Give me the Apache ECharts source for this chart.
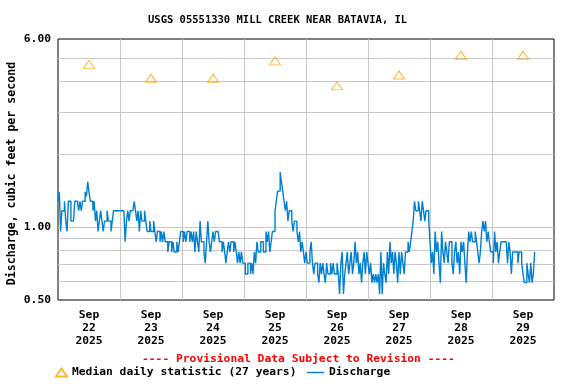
<!DOCTYPE html>
<html><head><meta charset="utf-8">
<script src="https://cdn.jsdelivr.net/npm/echarts@6/dist/echarts.min.js"></script>
<style>html,body{margin:0;padding:0;background:#fff}#c{width:576px;height:384px}</style>
</head><body><div id="c"></div>
<script>
// ---- data ----
const monthLabel = 'Sep';
const yearLabel = '2025';
const dayLabels = ['22','23','24','25','26','27','28','29'];
// median daily statistic (27 years), one per day, plotted at noon
const medianValues = [4.71, 4.13, 4.13, 4.87, 3.84, 4.26, 5.14, 5.14];
// discharge (cfs), half-hourly readings starting Sep 22 00:00
const dischargeDay22 = [1.28,1.40,0.96,1.17,1.17,1.28,1.06,0.96,1.28,1.28,1.06,1.06,1.06,1.28,1.28,1.28,1.17,1.28,1.17,1.28,1.28,1.40,1.34,1.54,
                        1.40,1.28,1.28,1.17,1.28,1.06,1.17,0.96,1.06,1.17,1.06,0.96,1.06,1.06,1.17,1.06,1.06,0.96,1.06,1.17,1.17,1.17,1.17,1.17];
const dischargeDay23 = [1.17,1.17,1.17,1.17,0.87,1.06,1.17,1.06,1.17,1.17,1.17,1.28,1.17,1.06,1.17,0.96,1.17,1.06,1.06,1.17,1.06,0.96,0.96,1.06,
                        0.96,0.96,1.06,0.96,0.87,0.96,0.96,0.87,0.96,0.87,0.96,0.87,0.87,0.79,0.87,0.87,0.79,0.87,0.79,0.79,0.87,0.79,0.87,0.96];
const dischargeDay24 = [0.96,0.87,0.96,0.87,0.96,0.96,0.87,0.96,0.87,0.96,0.79,0.96,0.87,0.79,1.06,0.87,0.87,0.79,0.71,0.87,1.06,0.87,0.79,0.87,
                        0.96,0.87,0.96,0.96,0.96,0.87,0.87,0.79,0.87,0.79,0.71,0.79,0.87,0.79,0.87,0.87,0.79,0.87,0.79,0.71,0.79,0.71,0.79,0.71];
const dischargeDay25 = [0.71,0.64,0.64,0.71,0.71,0.64,0.71,0.64,0.79,0.71,0.87,0.79,0.79,0.87,0.87,0.79,0.79,0.96,0.87,0.96,0.79,0.87,0.96,0.96,
                        1.17,1.28,1.41,1.41,1.69,1.54,1.41,1.28,1.17,1.28,1.06,1.17,1.17,1.06,0.96,1.06,1.06,0.96,0.87,0.96,0.79,0.87,0.79,0.71];
const dischargeDay26 = [0.79,0.71,0.71,0.79,0.87,0.71,0.64,0.71,0.71,0.64,0.59,0.71,0.64,0.71,0.64,0.59,0.71,0.64,0.64,0.71,0.64,0.71,0.64,0.64,
                        0.71,0.64,0.53,0.71,0.79,0.53,0.64,0.71,0.79,0.64,0.71,0.79,0.64,0.71,0.87,0.71,0.79,0.64,0.71,0.59,0.71,0.79,0.64,0.79];
const dischargeDay27 = [0.71,0.64,0.71,0.59,0.64,0.59,0.64,0.59,0.64,0.53,0.79,0.53,0.71,0.64,0.59,0.79,0.64,0.87,0.71,0.79,0.64,0.79,0.71,0.59,
                        0.79,0.64,0.79,0.71,0.64,0.79,0.79,0.87,0.79,0.87,0.96,1.06,1.28,1.17,1.17,1.28,1.17,1.06,1.28,1.17,1.06,1.17,1.17,1.06];
const dischargeDay28 = [0.87,0.71,0.79,0.64,0.96,0.79,0.87,0.71,0.59,0.96,0.79,0.71,0.87,0.79,0.71,0.87,0.87,0.71,0.64,0.79,0.87,0.71,0.79,0.64,
                        0.87,0.79,0.87,0.71,0.59,0.79,0.96,0.87,0.96,0.87,0.87,0.96,0.87,0.79,0.71,0.79,0.96,1.06,0.96,1.06,0.87,0.96,0.87,0.79];
const dischargeDay29 = [0.79,0.71,0.96,0.79,0.87,0.71,0.79,0.87,0.87,0.87,0.87,0.87,0.71,0.87,0.79,0.64,0.79,0.79,0.79,0.79,0.71,0.79,0.79,0.71,
                        0.64,0.59,0.59,0.71,0.64,0.59,0.71,0.59,0.64,0.79];
const yGridValues = [0.5,0.6,0.7,0.8,0.9,1,2,3,4,5,6];
const yLabelValues = [0.5,1,6];

// ---- build ----
const HOURS_PER_DAY = 24;
const HOURS_PER_READING = 0.5;
const discharge = [].concat(dischargeDay22, dischargeDay23, dischargeDay24, dischargeDay25,
  dischargeDay26, dischargeDay27, dischargeDay28, dischargeDay29);
const FONT = '"DejaVu Sans Mono", monospace';
const MEDIAN_NAME = 'Median daily statistic (27 years)';
const LEGEND_TEXT = {fontFamily: FONT, fontSize: 11.3, fontWeight: 'bold', color: '#000'};

const chart = echarts.init(document.getElementById('c'), null, {renderer: 'canvas'});
const option = {
  animation: false,
  backgroundColor: '#ffffff',
  title: [
    {text: 'USGS 05551330 MILL CREEK NEAR BATAVIA, IL', left: 148, top: 15, padding: 0,
     textStyle: {fontFamily: FONT, fontSize: 10.5, fontWeight: 'bold', color: '#000'}},
    {text: '---- Provisional Data Subject to Revision ----', left: 142, top: 354, padding: 0,
     textStyle: {fontFamily: FONT, fontSize: 11.3, fontWeight: 'bold', color: '#ff0000'}}
  ],
  grid: {left: 58, right: 22, top: 39, bottom: 84, show: true, containLabel: false,
         outerBoundsMode: 'none',
         borderColor: '#000', borderWidth: 1, backgroundColor: 'transparent'},
  legend: [
    {left: 55, top: 367, padding: 0, itemWidth: 11, itemHeight: 8, textStyle: LEGEND_TEXT,
     data: [MEDIAN_NAME]},
    {left: 307, top: 367, padding: 0, itemWidth: 17, itemHeight: 8, textStyle: LEGEND_TEXT,
     data: [{name: 'Discharge', icon: 'path://M0,0H17V1.4H0Z'}]}
  ],
  xAxis: {
    type: 'value', min: 0, max: dayLabels.length * HOURS_PER_DAY, interval: HOURS_PER_DAY,
    axisLine: {show: false}, axisTick: {show: false},
    splitLine: {show: true, showMinLine: false, showMaxLine: false,
                lineStyle: {color: '#c8c8c8', width: 1}},
    axisLabel: {
      customValues: dayLabels.map((d, i) => HOURS_PER_DAY * i + HOURS_PER_DAY / 2),
      formatter: v => {
        const i = Math.round((v - HOURS_PER_DAY / 2) / HOURS_PER_DAY);
        return monthLabel + '\n' + dayLabels[i] + '\n' + yearLabel;
      },
      fontFamily: FONT, fontSize: 11.3, fontWeight: 'bold', color: '#000',
      lineHeight: 12.7, margin: 9
    }
  },
  yAxis: {
    type: 'log', logBase: 10, min: 0.5, max: 6,
    axisLine: {show: false}, axisTick: {show: false},
    splitLine: {show: false}, axisLabel: {show: false},
    name: 'Discharge, cubic feet per second', nameLocation: 'middle', nameGap: 40, nameRotate: 90,
    nameTextStyle: {fontFamily: FONT, fontSize: 11.6, fontWeight: 'bold', color: '#000', padding: [0, 8, 0, 0]}
  },
  series: [
    {
      name: MEDIAN_NAME, type: 'scatter', z: 4,
      data: medianValues.map((v, i) => [HOURS_PER_DAY * i + HOURS_PER_DAY / 2, v]),
      symbol: 'triangle', symbolSize: [11, 8],
      itemStyle: {color: 'rgba(255,255,255,0)', borderColor: '#FFA500', borderWidth: 1}
    },
    {
      name: 'Discharge', type: 'line', z: 3, step: 'end',
      data: discharge.map((v, i) => [i * HOURS_PER_READING, v]),
      symbol: 'none', showSymbol: false,
      lineStyle: {color: '#0080d0', width: 1.4}, itemStyle: {color: '#0080d0'},
      markLine: {
        silent: true, z: 1, symbol: ['none', 'none'], animation: false,
        data: yGridValues.map(v => {
          const edge = (v === yGridValues[0] || v === yGridValues[yGridValues.length - 1]);
          const labelled = yLabelValues.indexOf(v) >= 0;
          return {
            yAxis: v,
            lineStyle: {color: edge ? 'rgba(0,0,0,0)' : '#c8c8c8', width: 1, type: 'solid'},
            label: labelled ? {show: true, position: 'start', distance: 7, formatter: v.toFixed(2),
              fontFamily: FONT, fontSize: 11.3, fontWeight: 'bold', color: '#000'} : {show: false}
          };
        })
      }
    }
  ]
};
chart.setOption(option);
</script>
</body></html>
